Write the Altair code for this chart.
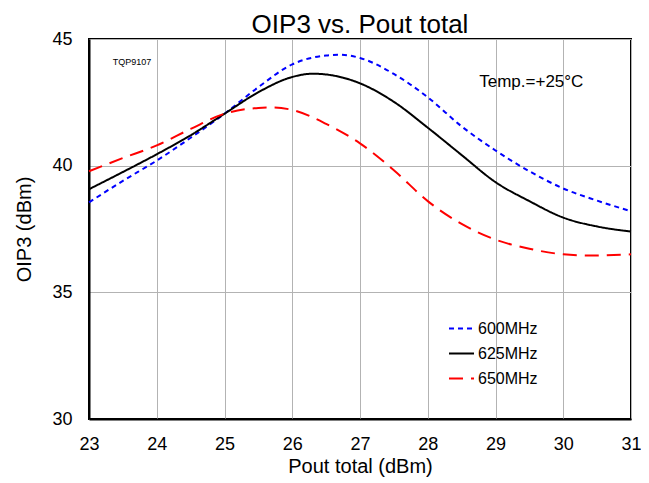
import altair as alt
import pandas as pd

pout_600 = [23, 23.5, 24, 24.5, 25, 25.5, 26, 26.5, 26.7, 27, 27.5, 28, 28.5, 29, 29.5, 30, 30.5, 31]
oip3_600 = [38.55, 39.4, 40.2, 41.1, 42.05, 43.1, 44.0, 44.35, 44.38, 44.25, 43.62, 42.7, 41.55, 40.6, 39.78, 39.1, 38.62, 38.2]

pout_625 = [23, 23.5, 24, 24.5, 25, 25.5, 26, 26.3, 26.5, 27, 27.5, 28, 28.5, 29, 29.5, 30, 30.5, 31]
oip3_625 = [39.07, 39.75, 40.45, 41.2, 42.05, 42.9, 43.5, 43.63, 43.6, 43.25, 42.52, 41.5, 40.42, 39.35, 38.6, 37.95, 37.6, 37.4]

pout_650 = [23, 23.5, 24, 24.5, 25, 25.5, 25.7, 26, 26.5, 27, 27.5, 28, 28.5, 29, 29.5, 30, 30.4, 31]
oip3_650 = [39.78, 40.3, 40.8, 41.45, 42.05, 42.28, 42.3, 42.2, 41.65, 40.88, 39.82, 38.6, 37.7, 37.08, 36.72, 36.5, 36.45, 36.5]

series_names = ["600MHz", "625MHz", "650MHz"]
series_colors = ["#0000FF", "#000000", "#FF0000"]
series_dash = [[5, 4], [1, 0], [14, 8]]

x_ticks = [23, 24, 25, 26, 27, 28, 29, 30, 31]
y_ticks = [30, 35, 40, 45]

notes_text = ["TQP9107", "Temp.=+25°C"]
notes_x = [23.35, 28.76]
notes_y = [44.1, 43.31]
notes_size = [9, 17]

rows = []
for name, xs, ys in zip(series_names, [pout_600, pout_625, pout_650], [oip3_600, oip3_625, oip3_650]):
    for x, y in zip(xs, ys):
        rows.append({"Pout": x, "OIP3": y, "Freq": name})
df = pd.DataFrame(rows)

xscale = alt.Scale(domain=[23, 31], nice=False)
yscale = alt.Scale(domain=[30, 45], nice=False)

x_axis = alt.Axis(title="Pout total (dBm)", values=x_ticks, labelOverlap=False, labelFlush=False,
                  grid=True, gridColor="#b3b3b3", gridWidth=1, ticks=False,
                  labelFontSize=18, titleFontSize=20, titleFontWeight="normal",
                  labelPadding=16, titlePadding=3, domainColor="black", domainWidth=2,
                  labelColor="black", titleColor="black")
y_axis = alt.Axis(title="OIP3 (dBm)", values=y_ticks, labelOverlap=False, labelFlush=False,
                  grid=True, gridColor="#b3b3b3", gridWidth=1, ticks=False,
                  labelFontSize=18, titleFontSize=20, titleFontWeight="normal",
                  labelPadding=17, titlePadding=17, domainColor="black", domainWidth=2,
                  labelColor="black", titleColor="black")

lines = alt.Chart(df).mark_line(strokeWidth=2, interpolate="monotone").encode(
    x=alt.X("Pout:Q", scale=xscale, axis=x_axis),
    y=alt.Y("OIP3:Q", scale=yscale, axis=y_axis),
    color=alt.Color("Freq:N", scale=alt.Scale(domain=series_names, range=series_colors),
                    legend=alt.Legend(title=None, orient="none", legendX=359, legendY=276,
                                      symbolType="stroke", symbolSize=625, symbolStrokeWidth=2,
                                      labelFontSize=16, labelColor="black", rowPadding=3,
                                      labelOffset=3)),
    strokeDash=alt.StrokeDash("Freq:N", scale=alt.Scale(domain=series_names, range=series_dash),
                              legend=None),
)

notes_df = pd.DataFrame({"t": notes_text, "x": notes_x, "y": notes_y, "s": notes_size})
notes = alt.Chart(notes_df).mark_text(align="left", baseline="middle", color="black").encode(
    x=alt.X("x:Q", scale=xscale, axis=x_axis),
    y=alt.Y("y:Q", scale=yscale, axis=y_axis),
    text="t:N",
    size=alt.Size("s:Q", scale=None, legend=None),
)

chart = alt.layer(lines, notes).properties(
    width=542, height=380,
    title=alt.TitleParams("OIP3 vs. Pout total", fontSize=26, fontWeight="normal", color="black",
                          offset=0, dy=8),
    autosize=alt.AutoSizeParams(type="none"),
    padding={"left": 81, "top": 31, "right": 10, "bottom": 62},
).configure(font="Liberation Sans").configure_view(stroke="black", strokeWidth=2)

chart.save("out.html", embed_options={"renderer": "svg", "actions": False})
